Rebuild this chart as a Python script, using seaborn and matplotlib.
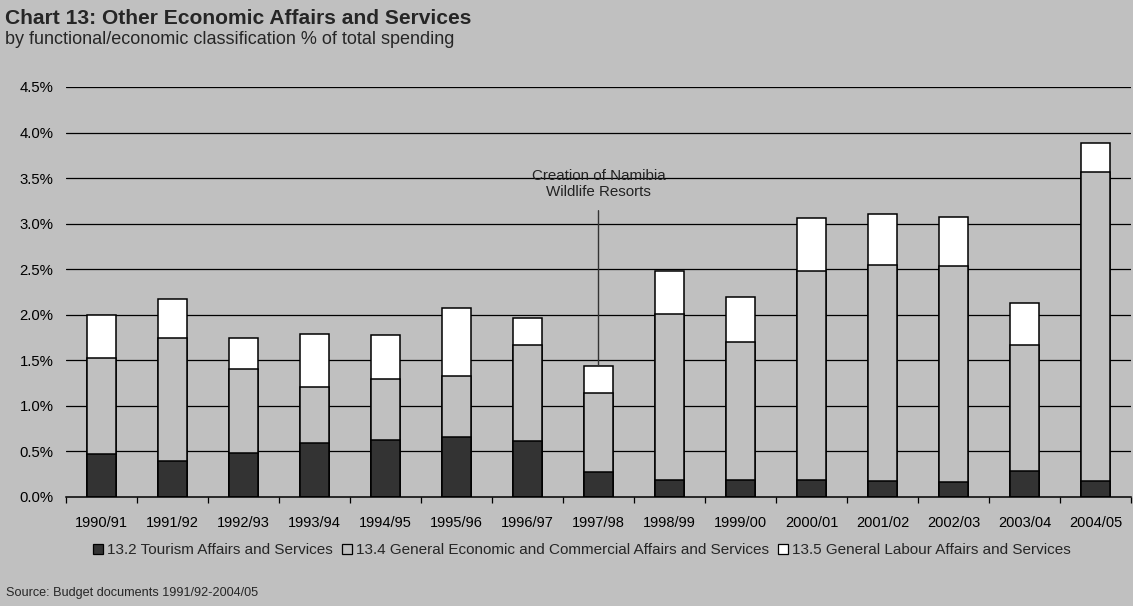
import numpy as np
import pandas as pd
import matplotlib
matplotlib.use("Agg")
import matplotlib.pyplot as plt
from matplotlib.patches import Patch
from matplotlib.ticker import FixedLocator
import seaborn as sns

years = ["1990/91", "1991/92", "1992/93", "1993/94", "1994/95", "1995/96", "1996/97",
         "1997/98", "1998/99", "1999/00", "2000/01", "2001/02", "2002/03", "2003/04", "2004/05"]
tourism = [0.47, 0.39, 0.48, 0.59, 0.63, 0.66, 0.62, 0.27, 0.19, 0.19, 0.19, 0.18, 0.17, 0.29, 0.18]
economic = [1.06, 1.35, 0.93, 0.62, 0.67, 0.67, 1.05, 0.87, 1.82, 1.51, 2.29, 2.37, 2.37, 1.38, 3.39]
labour = [0.47, 0.43, 0.33, 0.58, 0.48, 0.74, 0.30, 0.30, 0.47, 0.50, 0.58, 0.56, 0.53, 0.46, 0.32]
series_names = ["13.2 Tourism Affairs and Services",
                "13.4 General Economic and Commercial Affairs and Services",
                "13.5 General Labour Affairs and Services"]
colors = ["#333333", "#C0C0C0", "#FFFFFF"]
bg = "#C0C0C0"

sns.set_theme(style="white")
plt.rcParams["font.family"] = ["Liberation Sans", "DejaVu Sans"]

t = np.array(tourism)
e = np.array(economic)
l = np.array(labour)
layers = [t + e + l, t + e, t]  # cumulative tops, drawn back to front

fig = plt.figure(figsize=(11.33, 6.06), dpi=100, facecolor=bg)
ax = fig.add_axes([66 / 1133, 1 - 497 / 606, (1131 - 66) / 1133, (497 - 87) / 606])
ax.set_facecolor(bg)

for yv in np.arange(0.5, 4.51, 0.5):
    ax.axhline(yv, color="black", lw=0.9, zorder=0)

for top, col in zip(layers, colors[::-1]):
    df = pd.DataFrame({"year": years, "value": top})
    sns.barplot(data=df, x="year", y="value", order=years, color=col, width=0.41,
                edgecolor="black", linewidth=1.1, saturation=1, ax=ax, zorder=2)

ax.set_xlim(-0.5, len(years) - 0.5)
ax.set_ylim(0, 4.5)
ax.set_yticks(np.arange(0, 4.51, 0.5))
ax.set_yticklabels([f"{v:.1f}%" for v in np.arange(0, 4.51, 0.5)], fontsize=10.7)
ax.set_xticklabels(years, fontsize=10.5)
ax.set_xlabel("")
ax.set_ylabel("")
ax.xaxis.set_minor_locator(FixedLocator(np.arange(-0.5, len(years), 1.0)))
ax.tick_params(axis="x", which="major", length=0, pad=14, colors="black")
ax.tick_params(axis="x", which="minor", length=4, width=0.9, color="black", direction="out", bottom=True)
ax.tick_params(axis="y", length=0, pad=9, colors="black")
for side in ["left", "right", "top"]:
    ax.spines[side].set_visible(False)
ax.spines["bottom"].set_color("black")
ax.spines["bottom"].set_linewidth(1.1)

# note on the 1997/98 bar
i = years.index("1997/98")
ax.annotate("Creation of Namibia\nWildlife Resorts", xy=(i, layers[0][i]), xytext=(i, 3.27),
            ha="center", va="bottom", fontsize=10.9, color="#222222", linespacing=1.15,
            arrowprops=dict(arrowstyle="-", color="#333333", lw=1.0, shrinkA=6, shrinkB=0))

fig.text(5 / 1133, 1 - 18 / 606, "Chart 13: Other Economic Affairs and Services",
         fontsize=15.1, fontweight="bold", va="center", ha="left")
fig.text(5 / 1133, 1 - 39 / 606, "by functional/economic classification % of total spending",
         fontsize=13, va="center", ha="left")
fig.text(6 / 1133, 1 - 593 / 606, "Source: Budget documents 1991/92-2004/05",
         fontsize=9.1, va="center", ha="left")

handles = [Patch(facecolor=c, edgecolor="black", lw=0.9) for c in colors]
fig.legend(handles, series_names, loc="center", bbox_to_anchor=(582 / 1133, 1 - 550 / 606),
           ncol=3, frameon=False, fontsize=11, handlelength=0.65, handleheight=0.65,
           handletextpad=0.25, columnspacing=0.6)

fig.savefig("out.png", dpi=100, facecolor=bg)
